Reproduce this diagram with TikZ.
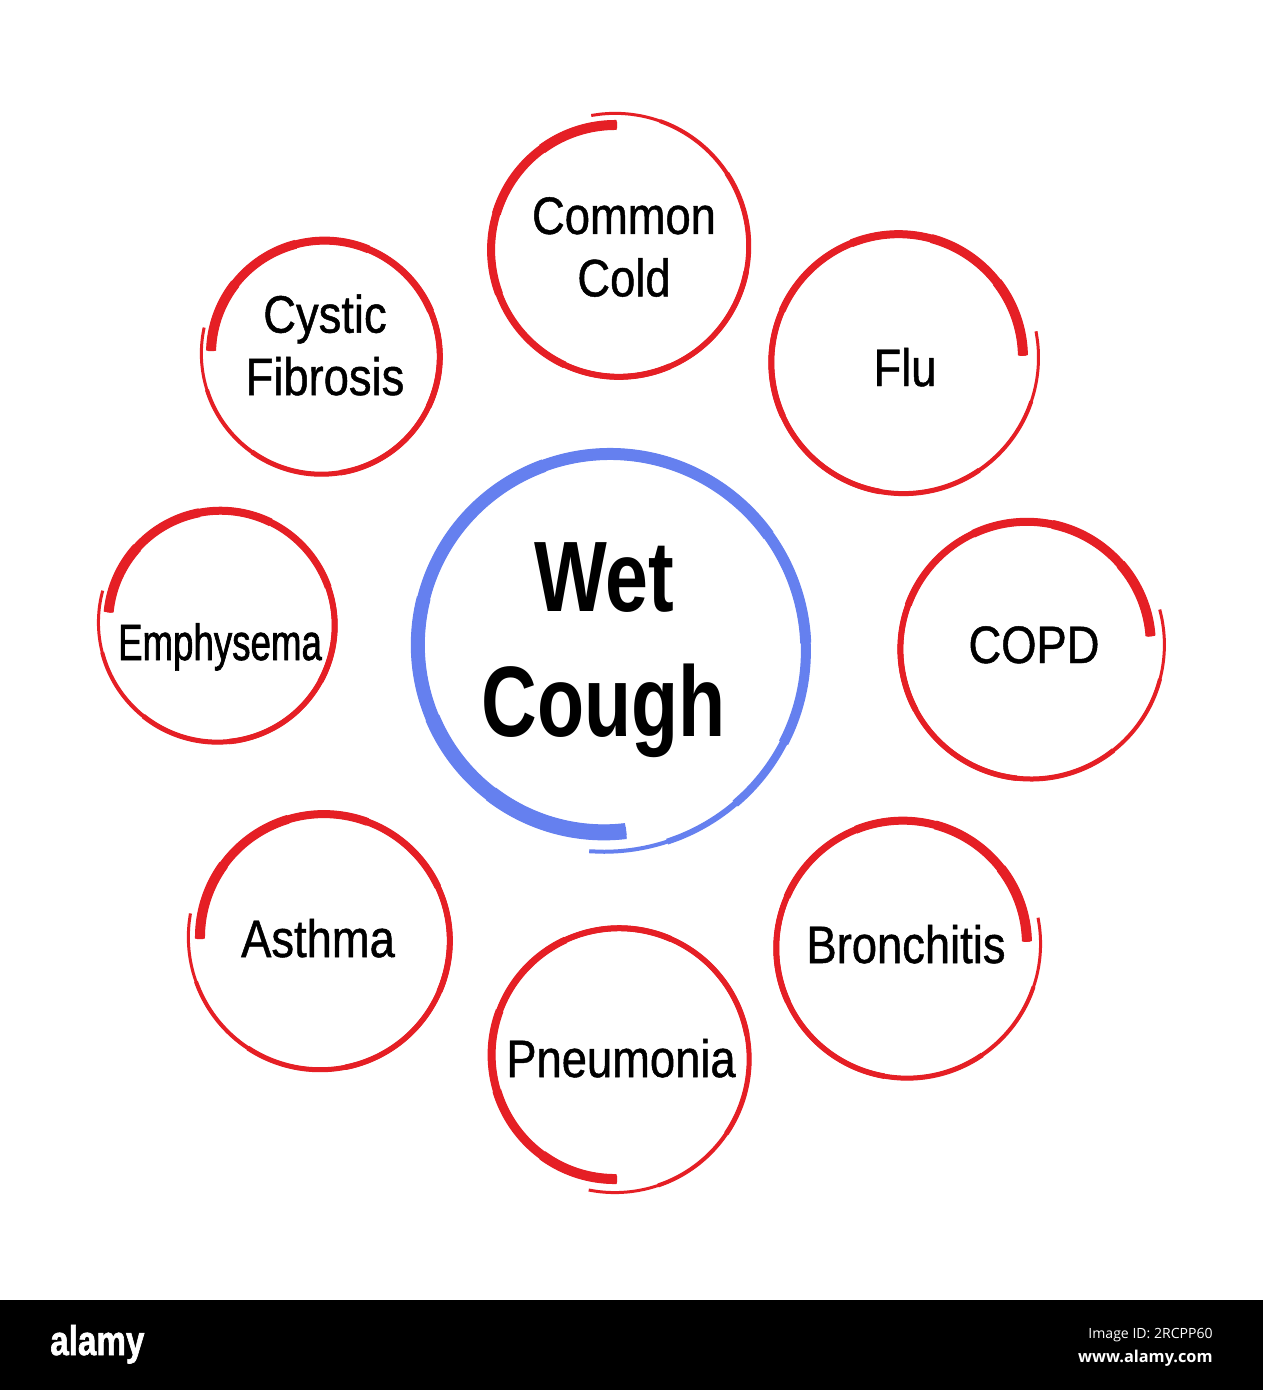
\documentclass[tikz,border=0pt]{standalone}
\usepackage{fontspec}
\setmainfont{Liberation Sans}
\newfontfamily\labelfont{Liberation Sans}[FakeStretch=0.86, FakeBold=0.9]
\newfontfamily\narrowfont{Liberation Sans}[FakeStretch=0.72, FakeBold=1.2]
\newfontfamily\titlefont{Liberation Sans}[FakeStretch=0.77]
\newfontfamily\logofont{Liberation Sans}[FakeStretch=0.8, FakeBold=1.5]
\newfontfamily\idfont{Open Sans}

\definecolor{ringred}{RGB}{229,31,37}
\definecolor{ringblue}{RGB}{101,128,239}

% brush ring: centre, radius, end angle, turn (+1/-1), overlap, tail offset, widths, colour
\newcommand{\handring}[8]{%
  \begin{scope}[shift={(#1)}]
    \foreach \tstart/\lw in #7{
      \draw[#8, line width=\lw*0.02cm]
        plot[domain=\tstart:1, samples=90, smooth]
        ({(#2+#6*(1-\x))*cos(#3-(#4)*(#5)+(#4)*(360+#5)*\x)},
         {(#2+#6*(1-\x))*sin(#3-(#4)*(#5)+(#4)*(360+#5)*\x)});
    }
  \end{scope}}

% stroke widths along the ring (start of part / width in px)
\newcommand{\redwidths}{0/3, 0.08/4, 0.18/5, 0.3/5.5, 0.45/6, 0.58/7, 0.7/8, 0.8/9, 0.9/10}
\newcommand{\bluewidths}{0/4, 0.06/6, 0.12/8, 0.18/10, 0.26/11, 0.35/12, 0.55/13, 0.7/14, 0.8/15, 0.88/16}

\tikzset{
  disease/.style={inner sep=0pt, text=black, align=center,
    font=\labelfont\fontsize{30}{35.5}\selectfont},
  maintext/.style={inner sep=0pt, text=black, align=center,
    font=\titlefont\bfseries\fontsize{57}{71.5}\selectfont},
}

\begin{document}
\begin{tikzpicture}[x=0.02cm, y=-0.02cm]
	\useasboundingbox (0,0) rectangle (1263,1390);
	\fill[white] (0,0) rectangle (1263,1300);
	
	% ring centres
	\coordinate (wet) at (607,648);
	\coordinate (cold) at (617,248);
	\coordinate (flu) at (901,360);
	\coordinate (copd) at (1029,647);
	\coordinate (bronch) at (905,946);
	\coordinate (pneu) at (617,1057);
	\coordinate (asthma) at (322,939);
	\coordinate (emph) at (219,624);
	\coordinate (cystic) at (323,355);
	
	% the blue ring in the middle
	\handring{wet}{184}{84}{-1}{11}{20}{\bluewidths}{ringblue}
	
	% the red rings around it
	\handring{cold}{123}{270}{1}{11}{12}{\redwidths}{ringred}
	\handring{flu}{122}{358}{1}{10}{16}{\redwidths}{ringred}
	\handring{copd}{122}{355}{1}{11}{14}{\redwidths}{ringred}
	\handring{bronch}{122}{358}{1}{10}{14}{\redwidths}{ringred}
	\handring{pneu}{122}{90}{-1}{12}{14}{\redwidths}{ringred}
	\handring{asthma}{122}{180}{-1}{11}{12}{\redwidths}{ringred}
	\handring{emph}{111}{186}{-1}{10}{10}{\redwidths}{ringred}
	\handring{cystic}{112}{182}{-1}{11}{10}{\redwidths}{ringred}
	
	% labels
	\node[maintext] (wettext) at (604,650) {Wet\\Cough};
	\node[disease] (coldtext) at (624,247) {Common\\Cold};
	\node[disease, anchor=base] (flutext) at (905,386) {Flu};
	\node[disease, anchor=base] (copdtext) at (1034,663) {COPD};
	\node[disease, anchor=base] (bronchtext) at (906,963) {Bronchitis};
	\node[disease, anchor=base] (pneutext) at (621,1077) {Pneumonia};
	\node[disease, anchor=base] (asthmatext) at (318,957) {Asthma};
	\node[disease, anchor=base, font=\narrowfont\fontsize{29}{34}\selectfont] (emphtext) at (220,660) {Emphysema};
	\node[disease] (cystictext) at (325,345) {Cystic\\Fibrosis};
	
	% black strip at the bottom
	\fill[black] (0,1300) rectangle (1263,1390);
	\node[anchor=base west, inner sep=0pt, text=white, font=\logofont\bfseries\fontsize{23.6}{24}\selectfont] (logo) at (50,1355) {alamy};
	\node[anchor=base east, inner sep=0pt, text=white, font=\idfont\fontsize{8}{9}\selectfont] (imageid) at (1213,1338) {Image ID: 2RCPP60};
	\node[anchor=base east, inner sep=0pt, text=white, font=\idfont\bfseries\fontsize{9.3}{10}\selectfont] (site) at (1213,1362) {www.alamy.com};
\end{tikzpicture}
\end{document}
